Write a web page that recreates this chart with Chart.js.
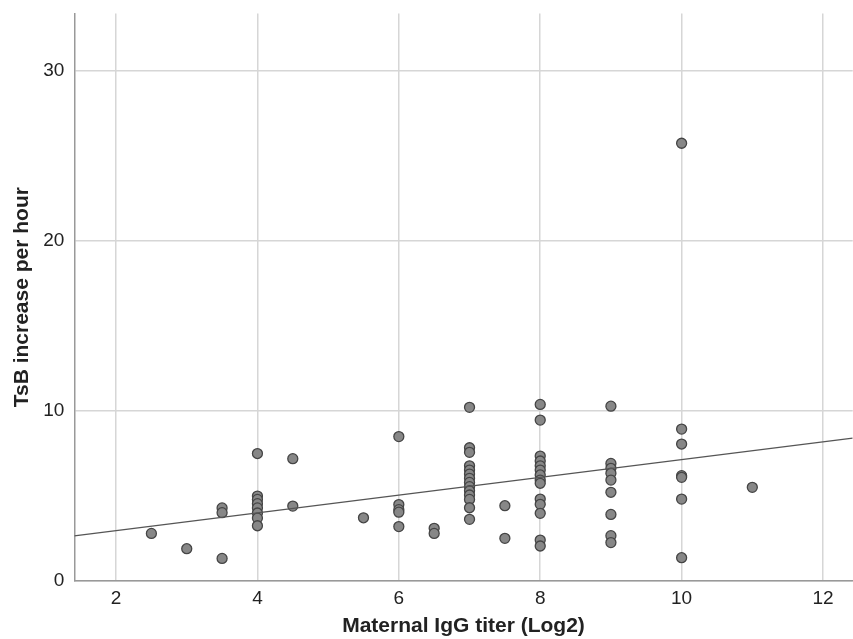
<!DOCTYPE html>
<html><head><meta charset="utf-8">
<script src="https://cdn.jsdelivr.net/npm/chart.js@4"></script>
<style>html,body{margin:0;padding:0;background:#fff;overflow:hidden}#w{width:859px;height:649px;margin-top:-8px}</style>
</head><body><div id="w"><canvas id="c"></canvas></div>
<script>
const titerX = [2.5,3,3.5,3.5,3.5,
 4,4,4,4,4,4,4,4, 4.5,4.5, 5.5,
 6,6,6,6,6, 6.5,6.5,
 7,7,7,7,7,7,7,7,7,7,7,7,7,7,
 7.5,7.5,
 8,8,8,8,8,8,8,8,8,8,8,8,8,8,
 9,9,9,9,9,9,9,9,9,
 10,10,10,10,10,10,10, 11];
const tsbY = [2.8,1.9,1.33,4.3,4.02,
 7.5,5.0,4.8,4.55,4.3,4.0,3.7,3.25, 7.2,4.41, 3.72,
 8.5,4.5,4.2,4.05,3.2, 3.1,2.8,
 10.22,7.84,7.57,6.78,6.53,6.29,6.04,5.8,5.55,5.31,5.06,4.8,4.31,3.63,
 4.43,2.51,
 10.39,9.47,7.35,7.06,6.78,6.53,6.24,5.94,5.75,4.82,4.51,3.98,2.41,2.06,
 10.29,6.92,6.63,6.34,5.94,5.22,3.92,2.67,2.26,
 25.76,8.94,8.06,6.2,6.1,4.82,1.37, 5.51];
const fitX = [1.41, 12.42];
const fitY = [2.65, 8.41];
const xTicks = [2,4,6,8,10,12];
const yTicks = [0,10,20,30];

const pts = titerX.map((x,i)=>({x:x,y:tsbY[i]}));
const fit = fitX.map((x,i)=>({x:x,y:fitY[i]}));
const fam = '"Liberation Sans", Arial, sans-serif';
const font = {family:fam, size:19};
new Chart(document.getElementById('c'),{
 type:'scatter',
 data:{datasets:[
  {data:pts, backgroundColor:'#878787', borderColor:'#454545', borderWidth:1.3, pointRadius:5, order:2},
  {type:'line', data:fit, borderColor:'#555', borderWidth:1.3, pointRadius:0, fill:false, order:1}
 ]},
 options:{
  responsive:true, maintainAspectRatio:false, animation:false,
  layout:{padding:{top:2,right:0,left:10,bottom:2}},
  plugins:{legend:{display:false},tooltip:{enabled:false}},
  scales:{
   x:{type:'linear', min:1.41, max:12.42,
      afterBuildTicks:(a)=>{a.ticks=xTicks.map(v=>({value:v}));},
      grid:{color:'#d6d6d6', lineWidth:1.5, drawTicks:false},
      border:{color:'#999', width:1.5},
      ticks:{color:'#222', font:font, padding:6, maxRotation:0},
      title:{display:true, text:'Maternal IgG titer (Log2)', color:'#222', font:{family:fam,size:21,weight:'bold'}, padding:{top:-2,bottom:0}}},
   y:{type:'linear', min:0, max:33.4,
      afterBuildTicks:(a)=>{a.ticks=yTicks.map(v=>({value:v}));},
      grid:{color:'#d6d6d6', lineWidth:1.5, drawTicks:false},
      border:{color:'#999', width:1.5},
      ticks:{color:'#222', font:font, padding:10},
      title:{display:true, text:'TsB increase per hour', color:'#222', font:{family:fam,size:21,weight:'bold'}, padding:{top:0,bottom:-2}}}
  }
 }
});
</script></body></html>
